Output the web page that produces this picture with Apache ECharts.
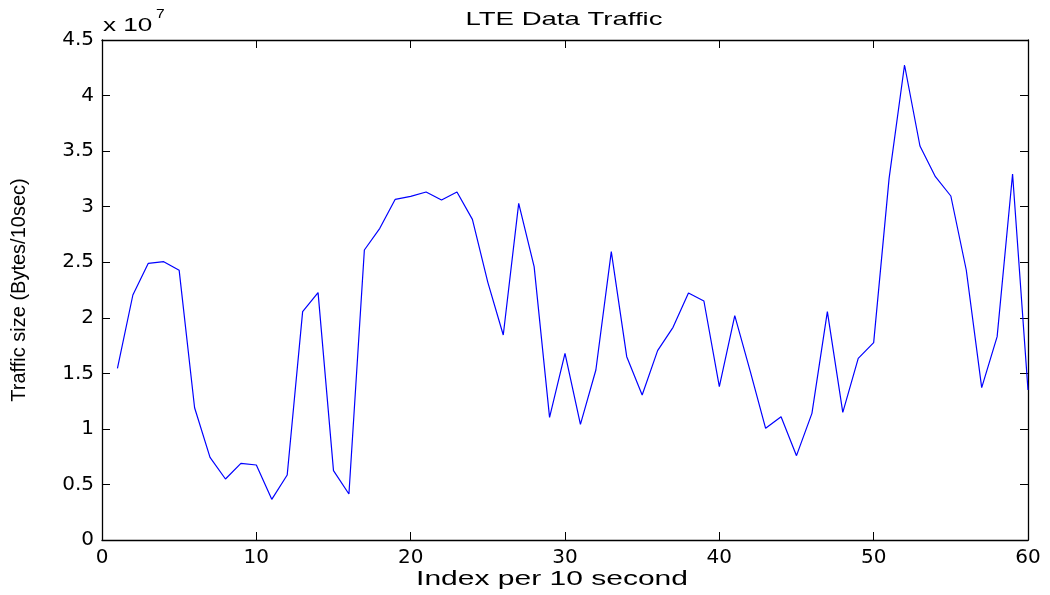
<!DOCTYPE html>
<html>
<head>
<meta charset="utf-8">
<script src="https://cdn.jsdelivr.net/npm/echarts@6/dist/echarts.min.js"></script>
<style>html,body{margin:0;padding:0;background:#fff}#c{width:1050px;height:595px}</style>
</head>
<body>
<div id="c"></div>
<script>
// Data (traffic in units of 1e7 bytes / 10 sec)
const indexValues = [1,2,3,4,5,6,7,8,9,10,11,12,13,14,15,16,17,18,19,20,21,22,23,24,25,26,27,28,29,30,31,32,33,34,35,36,37,38,39,40,41,42,43,44,45,46,47,48,49,50,51,52,53,54,55,56,57,58,59,60];
const trafficValues = [1.545,2.205,2.49,2.505,2.427,1.19,0.744,0.549,0.69,0.675,0.366,0.585,2.055,2.226,0.624,0.414,2.61,2.805,3.066,3.093,3.132,3.06,3.132,2.886,2.319,1.845,3.03,2.46,1.104,1.68,1.041,1.53,2.595,1.65,1.305,1.704,1.914,2.223,2.151,1.38,2.019,1.52,1.005,1.11,0.759,1.14,2.055,1.149,1.635,1.776,3.255,4.275,3.546,3.27,3.096,2.43,1.371,1.83,3.294,1.35];
const xTicks = {min: 0, max: 60, interval: 10};
const yTicks = {min: 0, max: 4.5, interval: 0.5};
const titleText = 'LTE Data Traffic';
const xName = 'Index per 10 second';
const yName = 'Traffic size (Bytes/10sec)';
const exponentBase = 'x 10';
const exponentPower = '7';

const chart = echarts.init(document.getElementById('c'));
const tickFont = {fontFamily: 'DejaVu Sans', fontSize: 20, color: '#000'};
const axisCommon = {
  axisLine: {show: true, onZero: false, lineStyle: {color: '#000', width: 1.3}},
  axisTick: {show: true, inside: true, length: 8, lineStyle: {color: '#000', width: 1}},
  splitLine: {show: false}
};
const data = indexValues.map((x, i) => [x, trafficValues[i]]);
chart.setOption({
  animation: false,
  backgroundColor: '#fff',
  grid: {left: 102, right: 22, top: 40, bottom: 55, containLabel: false},
  xAxis: [
    Object.assign({type: 'value', position: 'bottom', min: xTicks.min, max: xTicks.max, interval: xTicks.interval,
      axisLabel: Object.assign({margin: 8}, tickFont)}, axisCommon),
    Object.assign({type: 'value', position: 'top', min: xTicks.min, max: xTicks.max, interval: xTicks.interval,
      axisLabel: {show: false}}, axisCommon)
  ],
  yAxis: [
    Object.assign({type: 'value', position: 'left', min: yTicks.min, max: yTicks.max, interval: yTicks.interval,
      axisLabel: Object.assign({margin: 8}, tickFont)}, axisCommon),
    Object.assign({type: 'value', position: 'right', min: yTicks.min, max: yTicks.max, interval: yTicks.interval,
      axisLabel: {show: false}}, axisCommon)
  ],
  series: [{
    type: 'line', xAxisIndex: 0, yAxisIndex: 0, data: data,
    showSymbol: false, symbol: 'none',
    lineStyle: {color: '#0000ff', width: 1.2}
  }],
  graphic: [
    {type: 'text', x: 564, y: 20, scaleX: 1.45, scaleY: 1,
      style: {text: titleText, fontFamily: 'Liberation Sans', fontSize: 19, fill: '#000', align: 'center', verticalAlign: 'middle'}},
    {type: 'text', x: 552, y: 579, scaleX: 1.5, scaleY: 1,
      style: {text: xName, fontFamily: 'Liberation Sans', fontSize: 20, fill: '#000', align: 'center', verticalAlign: 'middle'}},
    {type: 'text', x: 19, y: 290, rotation: Math.PI / 2,
      style: {text: yName, fontFamily: 'Liberation Sans', fontSize: 20, fill: '#000', align: 'center', verticalAlign: 'middle'}},
    {type: 'text', x: 103, y: 26, scaleX: 1.45, scaleY: 1,
      style: {text: exponentBase, fontFamily: 'Liberation Sans', fontSize: 18, fill: '#000', align: 'left', verticalAlign: 'middle'}},
    {type: 'text', x: 156, y: 15, scaleX: 1.3, scaleY: 1,
      style: {text: exponentPower, fontFamily: 'Liberation Sans', fontSize: 12, fill: '#000', align: 'left', verticalAlign: 'middle'}}
  ]
});
</script>
</body>
</html>
